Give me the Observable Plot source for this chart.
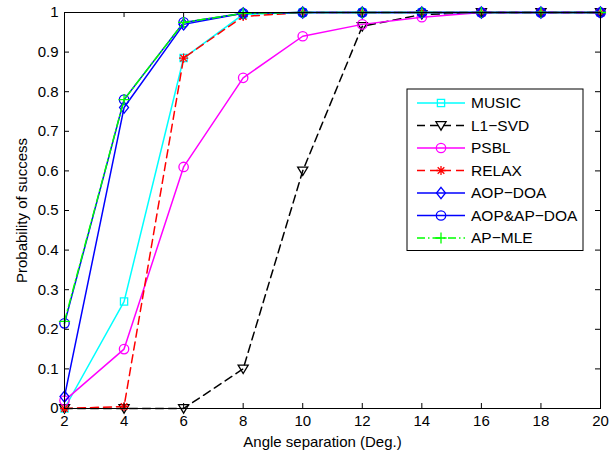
<!DOCTYPE html>
<html><head><meta charset="utf-8">
<script src="https://cdn.jsdelivr.net/npm/d3@7"></script>
<script src="https://cdn.jsdelivr.net/npm/@observablehq/plot@0.6"></script>
<style>
html,body{margin:0;padding:0;background:#fff;}
#chart{width:614px;height:455px;overflow:hidden;}
</style></head><body><div id="chart"></div>
<script>
// ---- data ----
const angles = [2, 4, 6, 8, 10, 12, 14, 16, 18, 20];
const music  = [0.0, 0.27, 0.885, 0.995, 1, 1, 1, 1, 1, 1];
const l1svd  = [0.0, 0.0, 0.0, 0.1, 0.6, 0.965, 0.995, 1, 1, 1];
const psbl   = [0.02, 0.15, 0.61, 0.835, 0.94, 0.97, 0.988, 1, 1, 1];
const relax  = [0.0, 0.005, 0.885, 0.99, 1, 1, 1, 1, 1, 1];
const aopDoa = [0.03, 0.76, 0.97, 0.998, 1, 1, 1, 1, 1, 1];
const aopApDoa = [0.215, 0.78, 0.975, 0.998, 1, 1, 1, 1, 1, 1];
const apMle  = [0.22, 0.78, 0.975, 0.998, 1, 1, 1, 1, 1, 1];
const seriesNames = ["MUSIC", "L1\u2212SVD", "PSBL", "RELAX", "AOP\u2212DOA", "AOP&AP\u2212DOA", "AP\u2212MLE"];
const seriesValues = [music, l1svd, psbl, relax, aopDoa, aopApDoa, apMle];
const xTicks = [2, 4, 6, 8, 10, 12, 14, 16, 18, 20];
const xTickLabels = ["2", "4", "6", "8", "10", "12", "14", "16", "18", "20"];
const yTicks = [0, 0.1, 0.2, 0.3, 0.4, 0.5, 0.6, 0.7, 0.8, 0.9, 1];
const yTickLabels = ["0", "0.1", "0.2", "0.3", "0.4", "0.5", "0.6", "0.7", "0.8", "0.9", "1"];
const xLabel = "Angle separation (Deg.)";
const yLabel = "Probability of success";

// ---- marker shapes ----
const R = s => Math.sqrt(s / Math.PI);
const symSquare = {draw(c, s){ const h = R(s) * 0.88; c.moveTo(-h,-h); c.lineTo(h,-h); c.lineTo(h,h); c.lineTo(-h,h); c.closePath(); }};
const symTriDown = {draw(c, s){ const r = R(s); c.moveTo(-1.2*r,-0.9*r); c.lineTo(1.2*r,-0.9*r); c.lineTo(0,1.1*r); c.closePath(); }};
const symCircle = {draw(c, s){ const r = R(s); c.moveTo(r,0); c.arc(0,0,r,0,2*Math.PI); }};
const symStar = {draw(c, s){ const r = R(s), k = r*0.72; c.moveTo(-r,0); c.lineTo(r,0); c.moveTo(0,-r); c.lineTo(0,r); c.moveTo(-k,-k); c.lineTo(k,k); c.moveTo(-k,k); c.lineTo(k,-k); }};
const symDiamond = {draw(c, s){ const r = R(s); c.moveTo(0,-1.25*r); c.lineTo(r,0); c.lineTo(0,1.25*r); c.lineTo(-r,0); c.closePath(); }};
const symPlus = {draw(c, s){ const r = R(s); c.moveTo(-r,0); c.lineTo(r,0); c.moveTo(0,-r); c.lineTo(0,r); }};

const styles = [
  {color: "#00ffff", dash: null,        symbol: symSquare,  r: 4.1},
  {color: "#000000", dash: "8,5",       symbol: symTriDown, r: 4.2},
  {color: "#ff00ff", dash: null,        symbol: symCircle,  r: 4.7},
  {color: "#ff0000", dash: "8,5",       symbol: symStar,    r: 4.6},
  {color: "#0000ff", dash: null,        symbol: symDiamond, r: 4.5},
  {color: "#0000ff", dash: null,        symbol: symCircle,  r: 4.7},
  {color: "#00ff00", dash: "8,3,1.5,3", symbol: symPlus,    r: 5.6}
];

// ---- layout ----
const W = 614, H = 455, mL = 64, mR = 14, mT = 12, mB = 47;
const plotW = W - mL - mR, plotH = H - mT - mB, tickLen = 5;
const FONT = "'Liberation Sans', Arial, Helvetica, sans-serif";

const marks = [];
seriesValues.forEach((vals, i) => {
  const st = styles[i];
  const data = angles.map((a, j) => ({x: a, y: vals[j]}));
  marks.push(Plot.line(data, {x: "x", y: "y", stroke: st.color, strokeWidth: 1.5, strokeDasharray: st.dash || undefined}));
  marks.push(Plot.dot(data, {x: "x", y: "y", stroke: st.color, fill: "none", strokeWidth: 1.3, symbol: st.symbol, r: st.r}));
});

// inward ticks on all four sides
marks.push(Plot.tickX(xTicks, {x: d => d, insetTop: plotH - tickLen, stroke: "black"}));
marks.push(Plot.tickX(xTicks, {x: d => d, insetBottom: plotH - tickLen, stroke: "black"}));
marks.push(Plot.tickY(yTicks, {y: d => d, insetRight: plotW - tickLen, stroke: "black"}));
marks.push(Plot.tickY(yTicks, {y: d => d, insetLeft: plotW - tickLen, stroke: "black"}));
marks.push(Plot.frame({stroke: "black", strokeWidth: 1}));
marks.push(Plot.text([xLabel], {frameAnchor: "bottom", dy: 34, dx: -10, textAnchor: "middle", lineAnchor: "middle", fontSize: 15, fill: "black"}));
marks.push(Plot.text([yLabel], {frameAnchor: "left", dx: -42, rotate: -90, textAnchor: "middle", lineAnchor: "middle", fontSize: 15, fill: "black"}));

const chart = Plot.plot({
  width: W, height: H,
  marginLeft: mL, marginRight: mR, marginTop: mT, marginBottom: mB,
  style: {fontFamily: FONT, fontSize: "15px", color: "black", background: "white", overflow: "visible"},
  x: {domain: [2, 20], ticks: xTicks, tickSize: 0, tickPadding: 7, tickFormat: d => xTickLabels[xTicks.indexOf(d)], label: null},
  y: {domain: [0, 1], ticks: yTicks, tickSize: 0, tickPadding: 6, tickFormat: d => yTickLabels[yTicks.indexOf(d)], label: null},
  marks
});
document.getElementById("chart").appendChild(chart);

// ---- legend (box inside the axes, top-right area) ----
const svg = d3.select(chart);
const lg = svg.append("g").attr("font-family", FONT).attr("font-size", 15.5).attr("text-anchor", "start");
const bx = 407, by = 89, bw = 176, rowH = 22.5, bh = rowH * seriesNames.length + 4;
lg.append("rect").attr("x", bx).attr("y", by).attr("width", bw).attr("height", bh)
  .attr("fill", "white").attr("stroke", "black").attr("stroke-width", 1);
seriesNames.forEach((name, i) => {
  const st = styles[i];
  const cy = by + 14 + i * rowH;
  lg.append("line").attr("x1", bx + 10).attr("x2", bx + 58).attr("y1", cy).attr("y2", cy)
    .attr("stroke", st.color).attr("stroke-width", 1.5).attr("stroke-dasharray", st.dash);
  const p = d3.path();
  st.symbol.draw(p, Math.PI * st.r * st.r);
  lg.append("path").attr("d", p.toString()).attr("transform", `translate(${bx + 34},${cy})`)
    .attr("fill", "none").attr("stroke", st.color).attr("stroke-width", 1.3);
  lg.append("text").attr("x", bx + 64).attr("y", cy).attr("dy", "0.35em")
    .attr("text-anchor", "start").attr("fill", "black").text(name);
});
</script>
</body></html>
